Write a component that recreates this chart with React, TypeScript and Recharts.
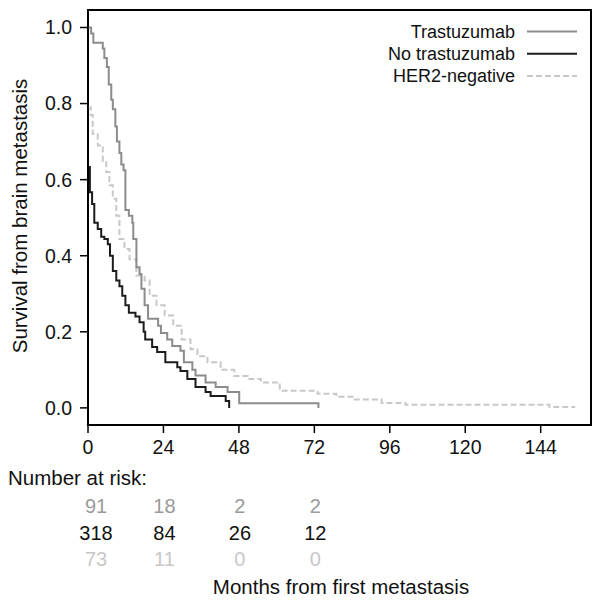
import React from "react";
import { LineChart, Line, XAxis, YAxis } from "recharts";

// ---- Data ----
const trastuzumabMonths = [0, 1.0, 1.7, 4.7, 5.2, 6.0, 6.6, 7.4, 7.9, 8.7, 9.2, 10.0, 10.6, 11.3, 11.9, 13.0, 14.1, 14.4, 15.4, 16.4, 17.0, 18.0, 19.1, 22.3, 23.2, 25.2, 26.8, 29.4, 30.5, 33.2, 34.2, 37.4, 40.6, 44.4, 48.1, 73.3];
const trastuzumabSurv = [1.0, 0.984, 0.96, 0.945, 0.92, 0.896, 0.85, 0.81, 0.785, 0.74, 0.70, 0.67, 0.64, 0.625, 0.52, 0.505, 0.487, 0.444, 0.37, 0.352, 0.313, 0.27, 0.234, 0.216, 0.197, 0.18, 0.163, 0.15, 0.12, 0.10, 0.085, 0.067, 0.055, 0.042, 0.012, 0.0];

const noTrastuzumabMonths = [0, 0.6, 1.3, 2.0, 3.1, 4.2, 5.2, 6.3, 7.0, 7.9, 9.0, 10.0, 10.9, 11.9, 13.0, 15.1, 16.4, 17.7, 18.2, 20.4, 22.0, 24.6, 28.4, 29.4, 31.6, 34.2, 37.4, 39.0, 43.8, 44.9];
const noTrastuzumabSurv = [0.633, 0.567, 0.536, 0.487, 0.47, 0.45, 0.444, 0.43, 0.40, 0.36, 0.335, 0.32, 0.295, 0.27, 0.25, 0.24, 0.225, 0.20, 0.18, 0.16, 0.147, 0.12, 0.107, 0.097, 0.076, 0.055, 0.042, 0.031, 0.018, 0.0];

const her2NegMonths = [0, 0.9, 1.5, 3.1, 4.7, 5.8, 6.8, 7.9, 9.0, 10.0, 11.6, 13.2, 15.4, 18.0, 19.6, 21.8, 24.4, 27.1, 29.8, 32.6, 34.8, 38.0, 42.2, 46.5, 50.8, 55.0, 61.0, 73.0, 79.0, 84.8, 93.4, 101.0, 146.8, 155.0];
const her2NegSurv = [0.79, 0.77, 0.72, 0.69, 0.65, 0.62, 0.585, 0.55, 0.505, 0.444, 0.418, 0.39, 0.348, 0.335, 0.295, 0.27, 0.243, 0.216, 0.18, 0.154, 0.136, 0.12, 0.10, 0.084, 0.076, 0.067, 0.045, 0.037, 0.029, 0.022, 0.013, 0.008, 0.002, 0.002];

const xTicks = [0, 24, 48, 72, 96, 120, 144];
const yTicks = [0, 0.2, 0.4, 0.6, 0.8, 1.0];

const riskMonths = [0, 24, 48, 72];
const riskTrastuzumab = [91, 18, 2, 2];
const riskNoTrastuzumab = [318, 84, 26, 12];
const riskHer2Neg = [73, 11, 0, 0];

const seriesNames = ["Trastuzumab", "No trastuzumab", "HER2-negative"];

// ---- Styling ----
const FONT = '"Liberation Sans", Arial, Helvetica, sans-serif';
const C_TRAS = "#8c8c8c";
const C_NOTRAS = "#1c1c1c";
const C_HER2 = "#c8c8c8";
const X_MAX = 160;
const Y_MIN = -0.045;
const Y_MAX = 1.046;

const W = 601;
const H = 603;
const M = { top: 10, right: 10, bottom: 138, left: 0 };
const Y_AXIS_W = 88;
const X_AXIS_H = 40;
const plotLeft = M.left + Y_AXIS_W;
const plotRight = W - M.right;
const plotTop = M.top;
const plotBottom = H - M.bottom - X_AXIS_H;
const xPix = (t: number) => plotLeft + (t / X_MAX) * (plotRight - plotLeft);

const toData = (ts: number[], ss: number[]) => ts.map((t, i) => ({ t, s: ss[i] }));
const trasData = toData(trastuzumabMonths, trastuzumabSurv);
const noTrasData = toData(noTrastuzumabMonths, noTrastuzumabSurv);
const her2Data = toData(her2NegMonths, her2NegSurv);

const legendItems = [
  { name: seriesNames[0], color: C_TRAS, dash: undefined as string | undefined },
  { name: seriesNames[1], color: C_NOTRAS, dash: undefined as string | undefined },
  { name: seriesNames[2], color: C_HER2, dash: "6 3" },
];

const riskRows = [
  { values: riskTrastuzumab, color: "#9a9a9a", y: 506 },
  { values: riskNoTrastuzumab, color: "#111111", y: 533 },
  { values: riskHer2Neg, color: "#c8c8c8", y: 559 },
];

const axisLineStyle = { stroke: "#000", strokeWidth: 1.5 };

export default function App() {
  return (
    <div
      style={{
        position: "absolute",
        left: 0,
        top: 0,
        width: W,
        height: H,
        background: "#fff",
        fontFamily: FONT,
        color: "#000",
        overflow: "hidden",
      }}
    >
      {/* Plot frame (HTML border) */}
      <div
        style={{
          position: "absolute",
          left: plotLeft - 1,
          top: plotTop - 1,
          width: plotRight - plotLeft + 2,
          height: plotBottom - plotTop + 2,
          boxSizing: "border-box",
          border: "2px solid #000",
        }}
      />

      <div style={{ position: "absolute", left: 0, top: 0 }}>
        <LineChart width={W} height={H} margin={M}>
          <XAxis
            type="number"
            dataKey="t"
            domain={[0, X_MAX]}
            ticks={xTicks}
            allowDataOverflow
            height={X_AXIS_H}
            axisLine={axisLineStyle}
            tickSize={8}
            tickMargin={7}
            tickLine={axisLineStyle}
            tick={{ fontSize: 19.5, fill: "#111" }}
            interval={0}
          />
          <YAxis
            type="number"
            dataKey="s"
            domain={[Y_MIN, Y_MAX]}
            ticks={yTicks}
            allowDataOverflow
            width={Y_AXIS_W}
            axisLine={axisLineStyle}
            tickSize={8}
            tickMargin={8}
            tickLine={axisLineStyle}
            tick={{ fontSize: 19.5, fill: "#111" }}
            tickFormatter={(v: number) => v.toFixed(1)}
            interval={0}
          />
          <Line
            data={her2Data}
            dataKey="s"
            type="stepAfter"
            stroke={C_HER2}
            strokeWidth={2}
            strokeDasharray="6 3"
            dot={false}
            activeDot={false}
            isAnimationActive={false}
            name={seriesNames[2]}
          />
          <Line
            data={trasData}
            dataKey="s"
            type="stepAfter"
            stroke={C_TRAS}
            strokeWidth={2}
            dot={false}
            activeDot={false}
            isAnimationActive={false}
            name={seriesNames[0]}
          />
          <Line
            data={noTrasData}
            dataKey="s"
            type="stepAfter"
            stroke={C_NOTRAS}
            strokeWidth={2}
            dot={false}
            activeDot={false}
            isAnimationActive={false}
            name={seriesNames[1]}
          />
        </LineChart>
      </div>

      {/* Legend swatches */}
      <svg
        width={W}
        height={100}
        style={{ position: "absolute", left: 0, top: 0, pointerEvents: "none" }}
      >
        {legendItems.map((it, i) => (
          <line
            key={it.name}
            x1={527}
            x2={577}
            y1={31.5 + i * 22.3}
            y2={31.5 + i * 22.3}
            stroke={it.color}
            strokeWidth={2}
            strokeDasharray={it.dash}
          />
        ))}
      </svg>

      {/* Y axis title */}
      <div
        style={{
          position: "absolute",
          left: 20,
          top: 216,
          transform: "translate(-50%, -50%) rotate(-90deg)",
          whiteSpace: "nowrap",
          fontSize: 20.5,
          lineHeight: 1,
          color: "#111",
        }}
      >
        Survival from brain metastasis
      </div>

      {/* Legend */}
      {legendItems.map((it, i) => (
        <div
          key={it.name}
          style={{
            position: "absolute",
            right: W - 515,
            top: 31.5 + i * 22.3,
            transform: "translateY(-50%)",
            fontSize: 18,
            lineHeight: 1,
            whiteSpace: "nowrap",
            color: "#111",
          }}
        >
          {it.name}
        </div>
      ))}

      {/* Number at risk */}
      <div
        style={{
          position: "absolute",
          left: 8,
          top: 478,
          transform: "translateY(-50%)",
          fontSize: 20.5,
          lineHeight: 1,
          whiteSpace: "nowrap",
          color: "#111",
        }}
      >
        Number at risk:
      </div>
      {riskRows.map((row, r) =>
        row.values.map((v, c) => (
          <div
            key={`${r}-${c}`}
            style={{
              position: "absolute",
              left: xPix(riskMonths[c]) + (c === 0 ? 8 : 1),
              top: row.y,
              transform: "translate(-50%, -50%)",
              fontSize: 20,
              lineHeight: 1,
              whiteSpace: "nowrap",
              color: row.color,
            }}
          >
            {v}
          </div>
        ))
      )}

      {/* X axis title */}
      <div
        style={{
          position: "absolute",
          left: 341,
          top: 587,
          transform: "translate(-50%, -50%)",
          fontSize: 20.5,
          lineHeight: 1,
          whiteSpace: "nowrap",
          color: "#111",
        }}
      >
        Months from first metastasis
      </div>
    </div>
  );
}
